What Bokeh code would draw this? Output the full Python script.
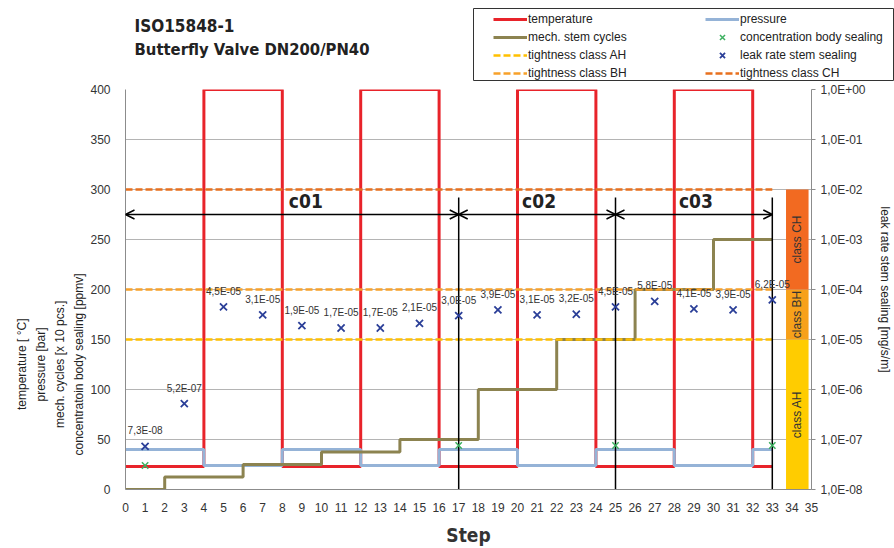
import math
from bokeh.plotting import figure
from bokeh.layouts import column, row
from bokeh.models import (Range1d, LogScale, LogAxis, FixedTicker, CustomJSTickFormatter,
                          Legend, LegendItem, Label, Title, Arrow, OpenHead, ColumnDataSource)
from bokeh.core.properties import value
from bokeh.embed import file_html
from bokeh.resources import INLINE

# ---------------- data ----------------
temp_x = [0, 4, 8, 12, 16, 20, 24, 28, 32, 33]
temp_y = [23, 400, 23, 400, 23, 400, 23, 400, 23, 23]
press_x = [0, 4, 8, 12, 16, 20, 24, 28, 32, 33]
press_y = [40, 24, 40, 24, 40, 24, 40, 24, 40, 40]
cyc_x = [0, 2, 6, 10, 14, 18, 22, 26, 30, 33]
cyc_y = [0, 12.5, 25, 37.5, 50, 100, 150, 200, 250, 250]

conc_x = [1, 17, 25, 33]
conc_y = [24, 44, 44, 44]

leak_x = [1, 3, 5, 7, 9, 11, 13, 15, 17, 19, 21, 23, 25, 27, 29, 31, 33]
leak_y = [7.3e-08, 5.2e-07, 4.5e-05, 3.1e-05, 1.9e-05, 1.7e-05, 1.7e-05, 2.1e-05, 3.0e-05,
          3.9e-05, 3.1e-05, 3.2e-05, 4.5e-05, 5.8e-05, 4.1e-05, 3.9e-05, 6.2e-05]
leak_labels = ["7,3E-08", "5,2E-07", "4,5E-05", "3,1E-05", "1,9E-05", "1,7E-05", "1,7E-05", "2,1E-05",
               "3,0E-05", "3,9E-05", "3,1E-05", "3,2E-05", "4,5E-05", "5,8E-05", "4,1E-05", "3,9E-05",
               "6,2E-05"]

class_names = ["class AH", "class BH", "class CH"]
class_bottom = [1e-8, 1e-5, 1e-4]
class_top = [1e-5, 1e-4, 1e-2]
class_levels_left = [150, 200, 300]   # same thresholds on the left scale
threshold_x = [0, 33]

cycle_names = ["c01", "c02", "c03"]
cycle_start = [0, 17, 25]
cycle_end = [17, 25, 33]
cycle_marker_x = [17, 25, 33]
cycle_marker_top = 292
cycle_arrow_y = 275
cycle_label_x = [9.2, 21.1, 29.1]
cycle_label_y = 289

x_ticks = list(range(0, 36))
y_ticks = list(range(0, 401, 50))
log_ticks = [1e-8, 1e-7, 1e-6, 1e-5, 1e-4, 1e-3, 1e-2, 1e-1, 1e0]

title_lines = ["ISO15848-1", "Butterfly Valve DN200/PN40"]
left_title_lines = ["temperature [ °C]", "pressure [bar]", "mech. cycles [x 10 pcs.]",
                    "concentratoin body sealing [ppmv]"]

# ---------------- colors ----------------
RED = "#E8232A"
BLUE = "#95B3D7"
OLIVE = "#8C8350"
AH = "#FFC000"
BH = "#F8A12A"
CH = "#E8701E"
BAR_AH = "#FFCC00"
BAR_BH = "#F7A11A"
BAR_CH = "#F26A21"
GREEN = "#3DB060"
NAVY = "#2B3F98"
GRID = "#B4B4B4"
AXIS = "#8C8C8C"
FONT = "Liberation Sans"
BOLDFONT = "DejaVu Sans Condensed"
DASH = "7 3"

# ================= main chart =================
p = figure(width=894, height=467, output_backend="svg", toolbar_location=None,
           x_range=Range1d(0, 35), y_range=Range1d(0, 400),
           min_border_left=125, min_border_right=81, min_border_top=8, min_border_bottom=50)
p.outline_line_color = None
p.extra_y_ranges = {"log": Range1d(1e-8, 1)}
p.extra_y_scales = {"log": LogScale()}

p.xaxis.ticker = FixedTicker(ticks=x_ticks)
p.xaxis.major_tick_line_color = None
p.xaxis.minor_tick_line_color = None
p.xaxis.axis_line_color = AXIS
p.xaxis.major_label_text_font = FONT
p.xaxis.major_label_text_font_size = "12px"
p.xaxis.major_label_text_color = "#333333"
p.xaxis.major_label_standoff = 7
p.xaxis.axis_label = "Step"
p.xaxis.axis_label_text_font = BOLDFONT
p.xaxis.axis_label_text_font_size = "19px"
p.xaxis.axis_label_text_font_style = "bold"
p.xaxis.axis_label_text_color = "#333333"
p.xaxis.axis_label_standoff = 9

p.yaxis.ticker = FixedTicker(ticks=y_ticks)
p.yaxis.major_tick_line_color = None
p.yaxis.minor_tick_line_color = None
p.yaxis.axis_line_color = AXIS
p.yaxis.major_label_text_font = FONT
p.yaxis.major_label_text_font_size = "12px"
p.yaxis.major_label_text_color = "#333333"
p.yaxis.major_label_standoff = 9

# left title: four rotated lines, stacked outward from the axis
line_px = [91, 74, 127, 182]          # approximate rendered lengths of the lines (12px)
title_center = 125
for txt, L in reversed(list(zip(left_title_lines, line_px))):
    p.add_layout(Title(text=txt, align="left", offset=title_center - L / 2, standoff=3,
                       text_font=FONT, text_font_size="12px", text_font_style="normal",
                       text_color="#222222"), "left")

p.xgrid.visible = False
p.ygrid.ticker = FixedTicker(ticks=y_ticks)
p.ygrid.grid_line_color = GRID

rax = LogAxis(y_range_name="log", ticker=FixedTicker(ticks=log_ticks),
              formatter=CustomJSTickFormatter(code="""
const e = Math.round(Math.log10(tick));
const a = Math.abs(e);
return "1,0E" + (e < 0 ? "-" : "+") + (a < 10 ? "0" : "") + a;
"""))
rax.axis_line_color = AXIS
rax.major_tick_line_color = AXIS
rax.major_tick_out = 4
rax.major_tick_in = 0
rax.minor_tick_line_color = None
rax.major_label_text_font = FONT
rax.major_label_text_font_size = "12px"
rax.major_label_text_color = "#333333"
rax.major_label_standoff = 5
rax.axis_label = "leak rate stem sealing [mg/s/m]"
rax.axis_label_text_font = FONT
rax.axis_label_text_font_size = "12px"
rax.axis_label_text_font_style = "normal"
rax.axis_label_text_color = "#222222"
rax.axis_label_standoff = 9
p.add_layout(rax, "right")

# class bars
p.quad(left=33.7, right=34.85, bottom=class_bottom, top=class_top,
       fill_color=[BAR_AH, BAR_BH, BAR_CH], line_color=None, y_range_name="log")
class_mid = [math.sqrt(b * t) for b, t in zip(class_bottom, class_top)]
p.text(x=[34.27] * 3, y=class_mid, text=class_names, angle=math.pi / 2,
       text_align="center", text_baseline="middle", text_font=value(FONT),
       text_font_size="12px", text_color="#333333", y_range_name="log")

# series
p.step(temp_x, temp_y, mode="after", line_color=RED, line_width=3)
p.step(press_x, press_y, mode="after", line_color=BLUE, line_width=3)
p.step(cyc_x, cyc_y, mode="after", line_color=OLIVE, line_width=3)
p.line(threshold_x, [class_levels_left[0]] * 2, line_color=AH, line_width=2.5, line_dash=DASH)
p.line(threshold_x, [class_levels_left[1]] * 2, line_color=BH, line_width=2.5, line_dash=DASH)
p.line(threshold_x, [class_levels_left[2]] * 2, line_color=CH, line_width=2.5, line_dash=DASH)

# cycle markers and arrows
p.segment(x0=cycle_marker_x, y0=[0] * 3, x1=cycle_marker_x, y1=[cycle_marker_top] * 3,
          line_color="black", line_width=1.5)
asrc = ColumnDataSource(dict(x0=cycle_start, x1=cycle_end, y=[cycle_arrow_y] * 3))
p.add_layout(Arrow(start=OpenHead(size=9, line_width=1.5), end=OpenHead(size=9, line_width=1.5),
                   x_start="x0", y_start="y", x_end="x1", y_end="y", source=asrc,
                   line_width=1.5, line_color="black"))
p.text(x=cycle_label_x, y=[cycle_label_y] * 3, text=cycle_names, text_align="center",
       text_baseline="middle", text_font=value(BOLDFONT), text_font_style="bold",
       text_font_size="19px", text_color="#222222")

p.scatter(conc_x, conc_y, marker="x", size=9, line_color=GREEN, line_width=1.5)
p.scatter(leak_x, leak_y, marker="x", size=10, line_color=NAVY, line_width=1.8, y_range_name="log")
p.text(x=leak_x, y=leak_y, text=leak_labels, text_align="center", text_baseline="bottom",
       y_offset=-10, text_font=value(FONT), text_font_size="10px", text_color="#333333",
       y_range_name="log")

# ================= header: title =================
tf = figure(width=473, height=81, output_backend="svg", toolbar_location=None,
            x_range=Range1d(0, 1), y_range=Range1d(0, 1), x_axis_location=None, y_axis_location=None,
            min_border_left=0, min_border_right=0, min_border_top=0, min_border_bottom=0)
tf.outline_line_color = None
tf.grid.visible = False
tf.add_layout(Label(x=134, y=55, x_units="screen", y_units="screen", text=title_lines[0],
                    text_font=BOLDFONT, text_font_style="bold", text_font_size="17px",
                    text_color="#222222", text_baseline="alphabetic"))
tf.add_layout(Label(x=134, y=31, x_units="screen", y_units="screen", text=title_lines[1],
                    text_font=BOLDFONT, text_font_style="bold", text_font_size="16.5px",
                    text_color="#222222", text_baseline="alphabetic"))

# ================= header: legend =================
lf = figure(width=421, height=81, output_backend="svg", toolbar_location=None,
            x_range=Range1d(0, 1), y_range=Range1d(0, 1), x_axis_location=None, y_axis_location=None,
            min_border_left=0, min_border_right=1, min_border_top=8, min_border_bottom=1)
lf.outline_line_color = "#333333"
lf.outline_line_width = 1
lf.grid.visible = False
# hidden copies of the series: they only supply the legend swatches
g_temp = lf.line(temp_x, temp_y, line_color=RED, line_width=3, visible=False)
g_cyc = lf.line(cyc_x, cyc_y, line_color=OLIVE, line_width=3, visible=False)
g_ah = lf.line(threshold_x, [class_levels_left[0]] * 2, line_color=AH, line_width=2.5,
               line_dash=DASH, visible=False)
g_bh = lf.line(threshold_x, [class_levels_left[1]] * 2, line_color=BH, line_width=2.5,
               line_dash=DASH, visible=False)
g_press = lf.line(press_x, press_y, line_color=BLUE, line_width=3, visible=False)
g_conc = lf.scatter(conc_x, conc_y, marker="x", size=9, line_color=GREEN, line_width=1.5, visible=False)
g_leak = lf.scatter(leak_x, leak_y, marker="x", size=10, line_color=NAVY, line_width=1.8, visible=False)
g_ch = lf.line(threshold_x, [class_levels_left[2]] * 2, line_color=CH, line_width=2.5,
               line_dash=DASH, visible=False)

common = dict(label_text_font=FONT, label_text_font_size="12px", label_text_color="#222222",
              glyph_width=34, glyph_height=18, label_height=18, spacing=0, padding=0, margin=0,
              label_standoff=1, border_line_color=None, background_fill_alpha=0,
              inactive_fill_alpha=0)
leg1 = Legend(items=[LegendItem(label="temperature", renderers=[g_temp]),
                     LegendItem(label="mech. stem cycles", renderers=[g_cyc]),
                     LegendItem(label="tightness class AH", renderers=[g_ah]),
                     LegendItem(label="tightness class BH", renderers=[g_bh])],
              location=(20, -2), **common)
leg2 = Legend(items=[LegendItem(label="pressure", renderers=[g_press]),
                     LegendItem(label="concentration body sealing", renderers=[g_conc]),
                     LegendItem(label="leak rate stem sealing", renderers=[g_leak]),
                     LegendItem(label="tightness class CH", renderers=[g_ch])],
              location=(232, -2), **common)
lf.add_layout(leg1, "center")
lf.add_layout(leg2, "center")

layout = column(row(tf, lf), p)
open("out.html", "w").write(file_html(layout, INLINE))
